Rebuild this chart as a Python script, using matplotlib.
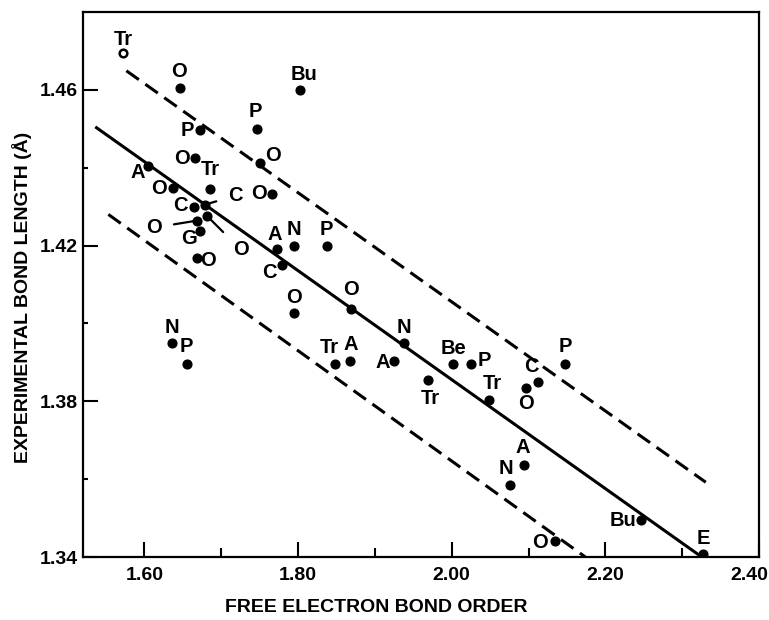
import matplotlib
matplotlib.use("Agg")
import matplotlib.pyplot as plt
from matplotlib.transforms import ScaledTranslation

# ---------------- data ----------------
bond_order = [1.5725, 1.6458, 1.8026, 1.7464, 1.6719, 1.7503, 1.6654, 1.6052,
              1.6366, 1.6850, 1.7660, 1.6641, 1.6784, 1.6810, 1.6680, 1.6719,
              1.6680, 1.7725, 1.7948, 1.7791, 1.8379, 1.7948, 1.8693, 1.9373,
              1.8484, 1.8680, 1.9255, 2.0013, 2.0248, 1.9686, 2.0484, 2.0967,
              2.1124, 2.1477, 2.0941, 2.0758, 2.2458, 2.1346, 2.3268, 1.6353,
              1.6549]
bond_length = [1.4695, 1.4605, 1.4600, 1.4500, 1.4497, 1.4413, 1.4426, 1.4405,
               1.4349, 1.4346, 1.4333, 1.4300, 1.4305, 1.4277, 1.4264, 1.4238,
               1.4167, 1.4192, 1.4200, 1.4149, 1.4200, 1.4026, 1.4038, 1.3949,
               1.3895, 1.3903, 1.3903, 1.3897, 1.3897, 1.3854, 1.3803, 1.3833,
               1.3849, 1.3897, 1.3636, 1.3585, 1.3495, 1.3441, 1.3408, 1.3949,
               1.3897]
point_labels = ["Tr", "O", "Bu", "P", "P", "O", "O", "A",
                "O", "Tr", "O", "C", "C", "O", "O", "G",
                "O", "A", "N", "C", "P", "O", "O", "N",
                "Tr", "A", "A", "Be", "P", "Tr", "Tr", "O",
                "C", "P", "A", "N", "Bu", "O", "E", "N",
                "P"]
open_marker = [0]  # index of the hollow point

fit_x = [1.536, 2.3255]
fit_y = [1.4505, 1.3400]
upper_x = [1.5765, 2.3307]
upper_y = [1.4649, 1.3592]
lower_x = [1.553, 2.1739]
lower_y = [1.4280, 1.3400]

x_ticks = [1.60, 1.80, 2.00, 2.20, 2.40]
x_minor = [1.70, 1.90, 2.10, 2.30]
y_ticks = [1.34, 1.38, 1.42, 1.46]
y_minor = [1.36, 1.40, 1.44]

# ---------------- layout (label offsets in pixels) ----------------
label_offsets = [(0, 13), (-1, 16), (4, 15), (-2, 17), (-12, -1), (13, 7), (-13, -1), (-11, -7),
                 (-14, -1), (1, 19), (-13, 0), (-13, 1), (31, 9), (34, -34), (-43, -7), (-11, -8),
                 (11, -2), (-2, 14), (0, 16), (-13, -7), (-1, 16), (0, 16), (0, 19), (0, 16),
                 (-6, 17), (0, 17), (-12, -1), (1, 15), (14, 3), (3, -18), (3, 17), (0, -15),
                 (-7, 16), (0, 17), (-1, 18), (-4, 16), (-18, 0), (-15, -1), (1, 15), (0, 16),
                 (0, 17)]
leader_idx = [12, 13, 14]

plt.rcParams['font.family'] = ['Liberation Sans', 'DejaVu Sans']

fig = plt.figure(figsize=(7.69, 6.20), dpi=100)
ax = fig.add_axes([83 / 769, 1 - 557 / 620, (759 - 83) / 769, (557 - 12) / 620])

ax.plot(fit_x, fit_y, color='black', lw=2.2, solid_capstyle='butt')
ax.plot(upper_x, upper_y, color='black', lw=2.2, dashes=(5, 2.6))
ax.plot(lower_x, lower_y, color='black', lw=2.2, dashes=(5, 2.6))

for i, (x, y) in enumerate(zip(bond_order, bond_length)):
    if i in open_marker:
        ax.plot(x, y, 'o', ms=5.5, mfc='white', mec='black', mew=1.8)
    else:
        ax.plot(x, y, 'o', ms=6.3, color='black')
    dx, dy = label_offsets[i]
    if i in leader_idx:
        ax.annotate(point_labels[i], (x, y), xytext=(dx, dy), textcoords='offset pixels',
                    ha='center', va='center', fontsize=14.5, fontweight='bold',
                    arrowprops=dict(arrowstyle='-', lw=1.6, color='black', shrinkA=7, shrinkB=2))
    else:
        ax.annotate(point_labels[i], (x, y), xytext=(dx, dy), textcoords='offset pixels',
                    ha='center', va='center', fontsize=14.5, fontweight='bold')

ax.set_xlim(1.52, 2.40)
ax.set_ylim(1.34, 1.48)
ax.set_xticks(x_ticks)
ax.set_xticklabels([f"{v:.2f}" for v in x_ticks])
ax.set_xticks(x_minor, minor=True)
ax.set_yticks(y_ticks)
ax.set_yticklabels([f"{v:.2f}" for v in y_ticks])
ax.set_yticks(y_minor, minor=True)

ax.tick_params(which='major', direction='in', length=11, width=1.5, labelsize=14, pad=4)
ax.tick_params(axis='x', which='major', pad=7)
ax.tick_params(axis='x', which='minor', direction='in', length=6.5, width=1.5)
ax.tick_params(axis='y', which='minor', direction='in', length=3.5, width=1.5)
for lab in ax.get_xticklabels() + ax.get_yticklabels():
    lab.set_fontweight('bold')
for s in ax.spines.values():
    s.set_linewidth(1.6)

ax.set_xlabel("FREE ELECTRON BOND ORDER", fontsize=14, fontweight='bold')
ax.xaxis.set_label_coords((376 - 83) / (759 - 83), -(607 - 557) / (557 - 12), transform=ax.transAxes)
ax.set_ylabel("EXPERIMENTAL BOND LENGTH (Å)", fontsize=14, fontweight='bold')
ax.yaxis.set_label_coords(-(83 - 22) / (759 - 83), (557 - 297) / (557 - 12), transform=ax.transAxes)
ax.xaxis.label.set_va('center')
ax.yaxis.label.set_va('center')

fig.canvas.draw()
last = ax.get_xticklabels()[-1]
last.set_transform(last.get_transform() + ScaledTranslation(-10 / 100, 0, fig.dpi_scale_trans))

fig.savefig("out.png", dpi=100)
